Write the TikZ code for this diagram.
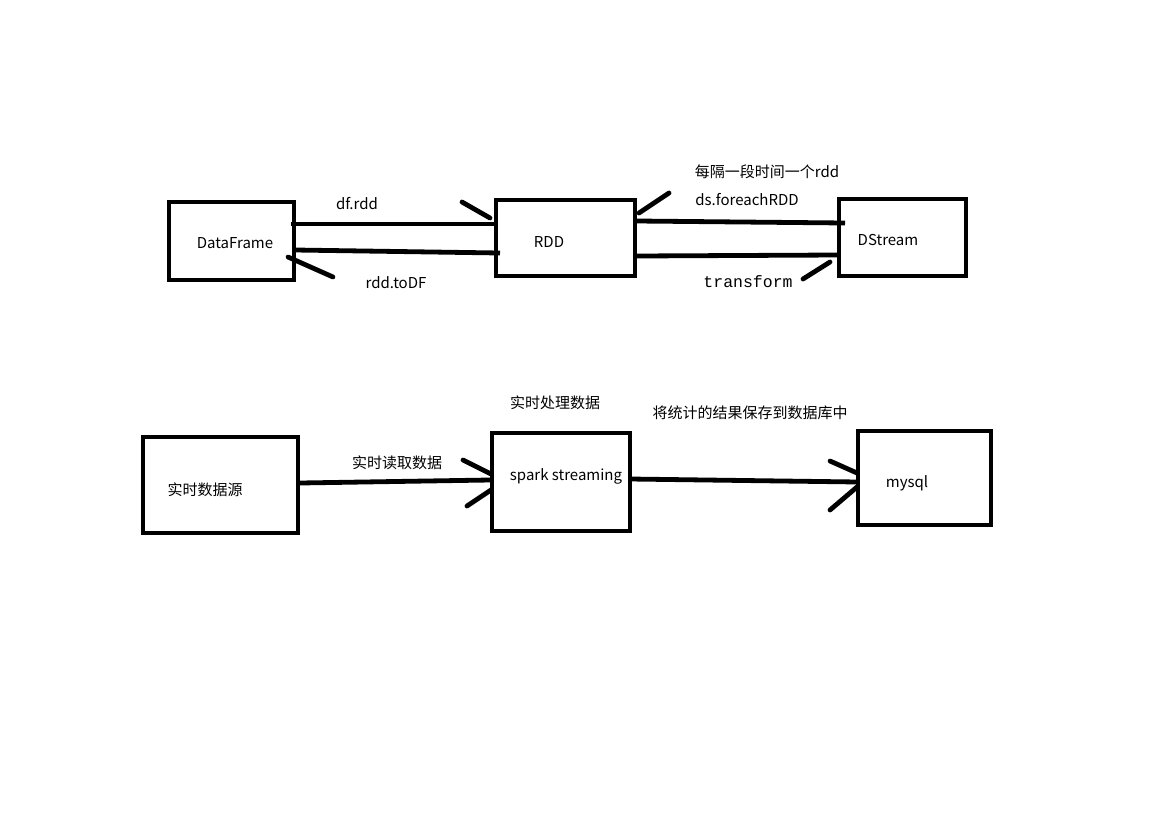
\documentclass[tikz,border=0pt]{standalone}
\usepackage{fontspec}
\setmainfont{Noto Sans CJK SC}
\newfontfamily\monof{Liberation Mono}
\begin{document}
\begin{tikzpicture}[x=1pt,y=-1pt,
  box/.style={draw,line width=4.5pt,minimum width=#1,inner sep=0pt},
  lbl/.style={inner sep=0pt,font=\fontsize{15}{17}\selectfont},
  conn/.style={line width=4.8pt},
  tip/.style={line width=4.8pt,line cap=round}]
\useasboundingbox[fill=white] (0,0) rectangle (1156,836);
% top row boxes
\node[box=125pt,minimum height=78pt] (df) at (231.5,241) {};
\node[box=139pt,minimum height=76pt] (rdd) at (565.5,238) {};
\node[box=127pt,minimum height=77pt] (ds) at (902.5,237.5) {};
\node[lbl] (dfT) at (235,243) {DataFrame};
\node[lbl] (rddT) at (549,242) {RDD};
\node[lbl] (dsT) at (888,240) {DStream};
% top connectors
\coordinate (a1) at (291,224); \coordinate (a2) at (497,224);
\coordinate (b1) at (295,250); \coordinate (b2) at (500,253);
\coordinate (c1) at (637,221); \coordinate (c2) at (845,223);
\coordinate (d1) at (637,256); \coordinate (d2) at (837,255);
\draw[conn] (a1) -- (a2);
\draw[conn] (b1) -- (b2);
\draw[conn] (c1) -- (c2);
\draw[conn] (d1) -- (d2);
\coordinate (ta) at (462,202); \coordinate (tae) at (490,218);
\coordinate (tb) at (333,277); \coordinate (tbe) at (288,257);
\coordinate (tc) at (669,193); \coordinate (tce) at (639,213);
\coordinate (td) at (803,279); \coordinate (tde) at (830,262);
\draw[tip] (ta) -- (tae);
\draw[tip] (tb) -- (tbe);
\draw[tip] (tc) -- (tce);
\draw[tip] (td) -- (tde);
\node[lbl] (l1) at (357,204) {df.rdd};
\node[lbl] (l2) at (396,283) {rdd.toDF};
\node[lbl] (l3) at (767,172) {每隔一段时间一个rdd};
\node[lbl] (l4) at (747,200) {ds.foreachRDD};
\node[inner sep=0pt,font=\monof\fontsize{16.5}{18}\selectfont] (l5) at (748,282) {transform};
% bottom row
\node[box=155pt,minimum height=96pt] (src) at (220.5,485) {};
\node[box=138pt,minimum height=98pt] (ss) at (561,482) {};
\node[box=133pt,minimum height=94pt] (my) at (924.5,478) {};
\node[lbl] (srcT) at (205,490) {实时数据源};
\node[lbl] (ssT) at (566,476) {spark streaming};
\node[lbl] (myT) at (907,483) {mysql};
\coordinate (e1) at (300,483); \coordinate (e2) at (490,480);
\coordinate (f1) at (630,479); \coordinate (f2) at (858,482);
\draw[conn] (e1) -- (e2);
\draw[conn] (f1) -- (f2);
\coordinate (te1) at (463,460); \coordinate (te2) at (467,506); \coordinate (tee) at (491,474); \coordinate (tee2) at (491,490);
\coordinate (tf1) at (830,461); \coordinate (tf2) at (830,510); \coordinate (tfe) at (857,473); \coordinate (tfe2) at (857,487);
\draw[tip] (te1) -- (tee);
\draw[tip] (te2) -- (tee2);
\draw[tip] (tf1) -- (tfe);
\draw[tip] (tf2) -- (tfe2);
\node[lbl] (m1) at (397,463) {实时读取数据};
\node[lbl] (m2) at (555,403) {实时处理数据};
\node[lbl] (m3) at (750,413) {将统计的结果保存到数据库中};
\end{tikzpicture}
\end{document}
